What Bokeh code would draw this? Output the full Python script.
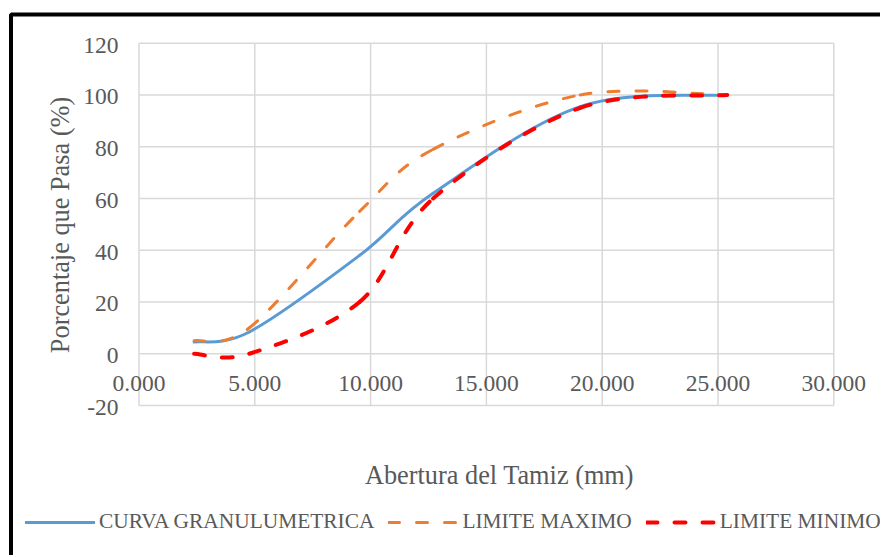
import math
from bokeh.plotting import figure
from bokeh.models import Legend, LegendItem, Label, BoxAnnotation, Range1d, ColumnDataSource
from bokeh.core.properties import value
from bokeh.embed import file_html
from bokeh.resources import INLINE

# ---- data ----
sieve_mm = [2.38, 4.76, 9.525, 12.7, 19.05, 25.4]
curva_granulometrica = [4.5, 8.4, 38, 62, 95.5, 100]
limite_maximo = [5, 10, 55, 79, 100, 100]
limite_minimo = [0, 0, 20, 60, 95, 100]
x_ticks = [0, 5, 10, 15, 20, 25, 30]
y_ticks = [-20, 0, 20, 40, 60, 80, 100, 120]
x_tick_labels = ["0.000", "5.000", "10.000", "15.000", "20.000", "25.000", "30.000"]
y_tick_labels = ["-20", "0", "20", "40", "60", "80", "100", "120"]
series_names = ["CURVA GRANULUMETRICA", "LIMITE MAXIMO", "LIMITE MINIMO"]
x_title = "Abertura del Tamiz (mm)"
y_title = "Porcentaje que Pasa (%)"

# ---- layout (pixels) ----
W, H = 880, 555
PL, PR, PT, PB = 138.5, 833.3, 42.7, 405.0     # plot area edges on the page
FONT = "Liberation Serif"
TXT = "#595959"
GRID = "#d9d9d9"
NAN = float("nan")

xmin, xmax = x_ticks[0], x_ticks[-1]
ymin, ymax = y_ticks[0], y_ticks[-1]
kx = (PR - PL) / (xmax - xmin)
ky = (PB - PT) / (ymax - ymin)


def px_x(px):
    return xmin + (px - PL) / kx


def px_y(py):
    return ymax - (py - PT) / ky


def smooth_source(xs, ys):
    """Excel-like smoothed line: cubic Bezier segments (Catmull-Rom control points)."""
    n = len(xs)
    d = dict(x0=[], y0=[], x1=[], y1=[], cx0=[], cy0=[], cx1=[], cy1=[])
    for i in range(n - 1):
        a = max(i - 1, 0)
        b = min(i + 2, n - 1)
        d["x0"].append(xs[i]); d["y0"].append(ys[i])
        d["x1"].append(xs[i + 1]); d["y1"].append(ys[i + 1])
        d["cx0"].append(xs[i] + (xs[i + 1] - xs[a]) / 6.0)
        d["cy0"].append(ys[i] + (ys[i + 1] - ys[a]) / 6.0)
        d["cx1"].append(xs[i + 1] - (xs[b] - xs[i]) / 6.0)
        d["cy1"].append(ys[i + 1] - (ys[b] - ys[i]) / 6.0)
    return ColumnDataSource(d)


p = figure(width=W, height=H, x_range=Range1d(px_x(0), px_x(W)), y_range=Range1d(px_y(H), px_y(0)),
           x_axis_location=None, y_axis_location=None,
           output_backend="svg", toolbar_location=None, min_border=0)
p.min_border_left = p.min_border_right = p.min_border_top = p.min_border_bottom = 0
p.background_fill_color = "white"
p.border_fill_color = "white"
p.outline_line_color = None
p.grid.visible = False

# gridlines (plot area)
p.segment(x0=x_ticks, y0=[ymin] * len(x_ticks), x1=x_ticks, y1=[ymax] * len(x_ticks),
          line_color=GRID, line_width=1.5)
p.segment(x0=[xmin] * len(y_ticks), y0=y_ticks, x1=[xmax] * len(y_ticks), y1=y_ticks,
          line_color=GRID, line_width=1.5)

# tick labels (x labels sit just under the 0 line, like the reference)
p.text(x=x_ticks, y=[0] * len(x_ticks), text=x_tick_labels, text_align="center",
       text_baseline="alphabetic", y_offset=30, text_font=value(FONT),
       text_font_size="23.5px", text_color=TXT)
p.text(x=[xmin] * len(y_ticks), y=y_ticks, text=y_tick_labels, text_align="right",
       text_baseline="alphabetic", x_offset=-20.5, y_offset=2, text_font=value(FONT),
       text_font_size="23.5px", text_color=TXT)

# curves
s1 = smooth_source(sieve_mm, curva_granulometrica)
s2 = smooth_source(sieve_mm, limite_maximo)
s3 = smooth_source(sieve_mm, limite_minimo)
bez = dict(x0="x0", y0="y0", x1="x1", y1="y1", cx0="cx0", cy0="cy0", cx1="cx1", cy1="cy1")
p.bezier(source=s1, line_color="#5b9bd5", line_width=3, line_cap="round", **bez)
p.bezier(source=s2, line_color="#ed7d31", line_width=3, line_cap="round", line_dash="11 17", **bez)
p.bezier(source=s3, line_color="#ff0000", line_width=4, line_cap="round", line_dash="11 17", **bez)

# legend proxies (same styles, no visible data)
l1 = p.line(x=[NAN, NAN], y=[NAN, NAN], line_color="#5b9bd5", line_width=3, line_cap="round")
l2 = p.line(x=[NAN, NAN], y=[NAN, NAN], line_color="#ed7d31", line_width=3, line_cap="round",
            line_dash="11 17")
l3 = p.line(x=[NAN, NAN], y=[NAN, NAN], line_color="#ff0000", line_width=4, line_cap="round",
            line_dash="11 17")

legend = Legend(items=[LegendItem(label=series_names[0], renderers=[l1]),
                       LegendItem(label=series_names[1], renderers=[l2]),
                       LegendItem(label=series_names[2], renderers=[l3])],
                orientation="horizontal", location=(25, 21),
                glyph_width=70, glyph_height=20, label_standoff=4, spacing=14,
                padding=0, margin=0, border_line_color=None, background_fill_alpha=0,
                label_text_font=FONT, label_text_font_size="21.4px", label_text_color=TXT)
p.add_layout(legend, "center")

# axis titles
p.add_layout(Label(x=px_x(499), y=px_y(475), text=x_title, text_align="center",
                   text_baseline="alphabetic", text_font=FONT, text_font_size="26.3px",
                   text_color=TXT))
p.add_layout(Label(x=px_x(60), y=px_y(224.5), text=y_title, angle=math.pi / 2,
                   text_align="center", text_baseline="alphabetic", text_font=FONT,
                   text_font_size="26.3px", text_color=TXT))

# outer chart border (its right/bottom sides fall outside the window, as in the reference)
p.add_layout(BoxAnnotation(left=px_x(10.5), top=px_y(14), right=px_x(W + 100), bottom=px_y(H + 100),
                           fill_alpha=0, line_color="black", line_alpha=1.0, line_width=4))

open("out.html", "w").write(file_html(p, INLINE))
